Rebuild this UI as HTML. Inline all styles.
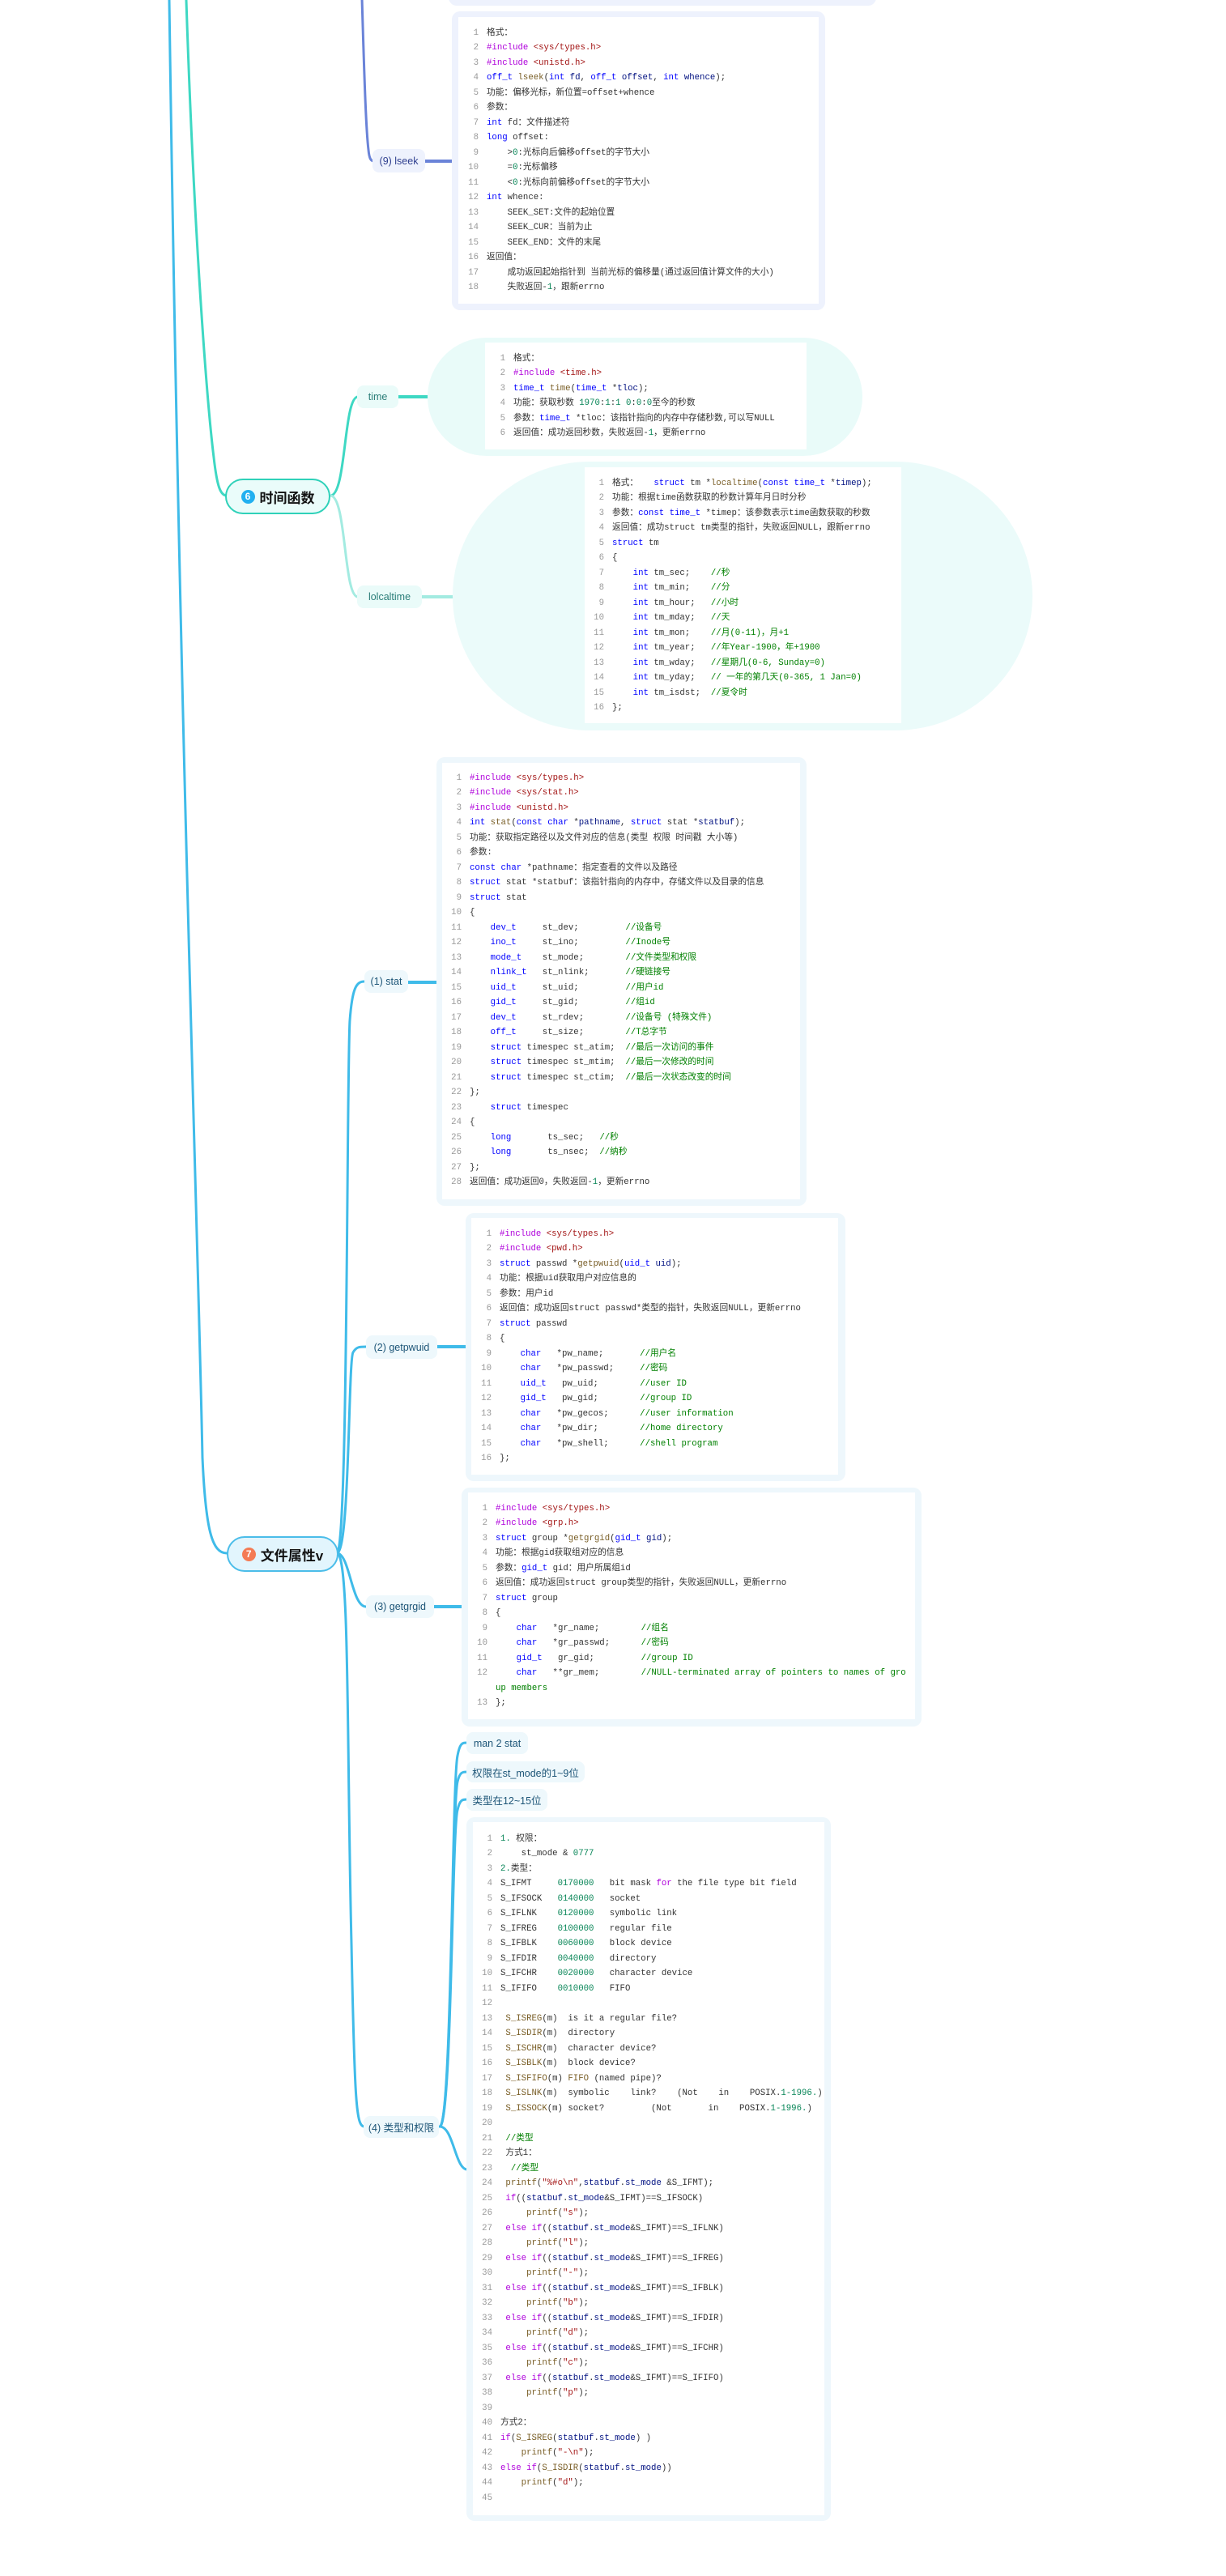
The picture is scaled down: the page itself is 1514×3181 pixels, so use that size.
<!DOCTYPE html>
<html><head><meta charset="utf-8">
<style>
html,body{margin:0;padding:0;background:#fff;}
body{width:1514px;height:3181px;position:relative;overflow:hidden;font-family:"Liberation Sans","Noto Sans CJK SC",sans-serif;}
.box{position:absolute;border-radius:10px;}
.inner{position:absolute;background:#fff;}
.node{position:absolute;display:flex;align-items:center;justify-content:center;border-radius:8px;font-size:12.5px;white-space:nowrap;box-sizing:border-box;}
.nb{background:#eef8fc;color:#1d5577;}
.nt{background:#eafbf9;color:#2a7d78;}
.ni{background:#eef2fd;color:#2f3f8f;}
.main{position:absolute;display:flex;align-items:center;justify-content:center;border-radius:24px;box-sizing:border-box;font-weight:bold;font-size:17px;color:#111;}
.circ{display:inline-flex;width:17px;height:17px;border-radius:50%;color:#fff;font-size:12px;align-items:center;justify-content:center;margin-right:6px;}
.code{position:absolute;font-family:"Liberation Mono","Noto Sans CJK SC",monospace;font-size:10.7px;line-height:18.5px;color:#333;white-space:normal;}
.code div{height:18.5px;white-space:pre;overflow:visible;}
.code i{display:inline-block;width:20px;margin-right:10px;text-align:right;color:#999;font-style:normal;}
.k{color:#0000ff}.p{color:#af00db}.s{color:#a31515}.c{color:#008000}.n{color:#098658}.f{color:#795e26}.v{color:#001080}
svg{position:absolute;left:0;top:0;}
</style></head><body>

<svg width="1514" height="3181" viewBox="0 0 1514 3181">
<g fill="none" stroke-width="3" stroke-linecap="round">
<path d="M209,0 C222,900 244,1500 250,1800 C254,1890 262,1918 280,1918" stroke="#3fbbe9"/>
<path d="M230,0 C240,300 256,500 264,565 C268,600 272,612 280,612" stroke="#3ed8c3"/>
<path d="M447,-2 C450,100 452,160 455,185 C456,196 458,199 462,199" stroke="#6a83d8"/>
<path d="M525,199 L558,199" stroke="#6a83d8" stroke-width="4"/>
<path d="M408,612 C428,612 424,490 442,490" stroke="#3ed8c3"/>
<path d="M408,612 C428,612 424,737 442,737" stroke="#a3ebe1"/>
<path d="M492,490 L528,490" stroke="#3ed8c3" stroke-width="4"/>
<path d="M521,737 L559,737" stroke="#a3ebe1" stroke-width="4"/>
<path d="M416,1918 C430,1918 428,1320 432,1260 C435,1220 440,1212 450,1212" stroke="#3fbbe9"/>
<path d="M416,1918 C432,1918 430,1680 436,1670 C440,1663 444,1663 452,1663" stroke="#3fbbe9"/>
<path d="M416,1918 C432,1918 434,1984 452,1984" stroke="#3fbbe9"/>
<path d="M416,1918 C432,1918 428,2150 434,2400 C438,2600 440,2626 450,2626" stroke="#3fbbe9"/>
<path d="M504,1213 L539,1213" stroke="#3fbbe9" stroke-width="4"/>
<path d="M540,1663 L575,1663" stroke="#3fbbe9" stroke-width="4"/>
<path d="M536,1984 L570,1984" stroke="#3fbbe9" stroke-width="4"/>
<path d="M543,2626 C558,2626 558,2200 565,2168 C568,2152 571,2152 577,2152" stroke="#3fbbe9"/>
<path d="M543,2626 C558,2626 558,2230 565,2200 C568,2188 571,2188 577,2188" stroke="#3fbbe9"/>
<path d="M543,2626 C558,2626 558,2260 565,2235 C568,2222 571,2222 577,2222" stroke="#3fbbe9"/>
<path d="M543,2626 C560,2626 562,2679 577,2679" stroke="#3fbbe9"/>
</g>
</svg>

<div class="box" style="left:554px;top:-20px;width:528px;height:27px;background:#eef2fd;"></div>

<div class="box" style="left:558px;top:14px;width:461px;height:369px;background:#eef2fd;"></div>
<div class="inner" style="left:566px;top:21px;width:445px;height:354px;"></div>
<div class="node ni" style="left:460px;top:184px;width:65px;height:29px;">(9) lseek</div>
<div class="code" style="left:571px;top:31.75px;">
<div><i>1</i>格式：</div>
<div><i>2</i><span class="p">#include</span> <span class="s">&lt;sys/types.h&gt;</span></div>
<div><i>3</i><span class="p">#include</span> <span class="s">&lt;unistd.h&gt;</span></div>
<div><i>4</i><span class="k">off_t</span> <span class="f">lseek</span>(<span class="k">int</span> <span class="v">fd</span>, <span class="k">off_t</span> <span class="v">offset</span>, <span class="k">int</span> <span class="v">whence</span>);</div>
<div><i>5</i>功能：偏移光标，新位置=offset+whence</div>
<div><i>6</i>参数：</div>
<div><i>7</i><span class="k">int</span> fd：文件描述符</div>
<div><i>8</i><span class="k">long</span> offset:</div>
<div><i>9</i>    &gt;<span class="n">0</span>:光标向后偏移offset的字节大小</div>
<div><i>10</i>    =<span class="n">0</span>:光标偏移</div>
<div><i>11</i>    &lt;<span class="n">0</span>:光标向前偏移offset的字节大小</div>
<div><i>12</i><span class="k">int</span> whence:</div>
<div><i>13</i>    SEEK_SET:文件的起始位置</div>
<div><i>14</i>    SEEK_CUR：当前为止</div>
<div><i>15</i>    SEEK_END：文件的末尾</div>
<div><i>16</i>返回值：</div>
<div><i>17</i>    成功返回起始指针到 当前光标的偏移量(通过返回值计算文件的大小)</div>
<div><i>18</i>    失败返回-<span class="n">1</span>，跟新errno</div>
</div>

<div class="main" style="left:278px;top:591px;width:130px;height:44px;background:#eafcfa;border:2.5px solid #2fd1b9;"><span class="circ" style="background:#22b0f0;">6</span>时间函数</div>

<div class="box" style="left:528px;top:417px;width:537px;height:146px;background:#e9fbf9;border-radius:73px;"></div>
<div class="inner" style="left:599px;top:423px;width:397px;height:132px;"></div>
<div class="node nt" style="left:441px;top:476px;width:51px;height:28px;">time</div>
<div class="code" style="left:604px;top:433.75px;">
<div><i>1</i>格式：</div>
<div><i>2</i><span class="p">#include</span> <span class="s">&lt;time.h&gt;</span></div>
<div><i>3</i><span class="k">time_t</span> <span class="f">time</span>(<span class="k">time_t</span> *<span class="v">tloc</span>);</div>
<div><i>4</i>功能：获取秒数 <span class="n">1970</span>:<span class="n">1</span>:<span class="n">1</span> <span class="n">0</span>:<span class="n">0</span>:<span class="n">0</span>至今的秒数</div>
<div><i>5</i>参数：<span class="k">time_t</span> *tloc：该指针指向的内存中存储秒数,可以写NULL</div>
<div><i>6</i>返回值：成功返回秒数，失败返回-<span class="n">1</span>，更新errno</div>
</div>

<div class="box" style="left:559px;top:570px;width:716px;height:332px;background:#ebfbfa;border-radius:170px / 166px;"></div>
<div class="inner" style="left:722px;top:577px;width:391px;height:316px;"></div>
<div class="node nt" style="left:441px;top:723px;width:80px;height:28px;">lolcaltime</div>
<div class="code" style="left:726px;top:587.75px;">
<div><i>1</i>格式：   <span class="k">struct</span> tm *<span class="f">localtime</span>(<span class="k">const</span> <span class="k">time_t</span> *<span class="v">timep</span>);</div>
<div><i>2</i>功能：根据time函数获取的秒数计算年月日时分秒</div>
<div><i>3</i>参数：<span class="k">const</span> <span class="k">time_t</span> *timep：该参数表示time函数获取的秒数</div>
<div><i>4</i>返回值：成功struct tm类型的指针，失败返回NULL，跟新errno</div>
<div><i>5</i><span class="k">struct</span> tm</div>
<div><i>6</i>{</div>
<div><i>7</i>    <span class="k">int</span> tm_sec;    <span class="c">//秒</span></div>
<div><i>8</i>    <span class="k">int</span> tm_min;    <span class="c">//分</span></div>
<div><i>9</i>    <span class="k">int</span> tm_hour;   <span class="c">//小时</span></div>
<div><i>10</i>    <span class="k">int</span> tm_mday;   <span class="c">//天</span></div>
<div><i>11</i>    <span class="k">int</span> tm_mon;    <span class="c">//月(0-11)，月+1</span></div>
<div><i>12</i>    <span class="k">int</span> tm_year;   <span class="c">//年Year-1900，年+1900</span></div>
<div><i>13</i>    <span class="k">int</span> tm_wday;   <span class="c">//星期几(0-6, Sunday=0)</span></div>
<div><i>14</i>    <span class="k">int</span> tm_yday;   <span class="c">// 一年的第几天(0-365, 1 Jan=0)</span></div>
<div><i>15</i>    <span class="k">int</span> tm_isdst;  <span class="c">//夏令时</span></div>
<div><i>16</i>};</div>
</div>

<div class="box" style="left:539px;top:935px;width:457px;height:554px;background:#eef7fc;"></div>
<div class="inner" style="left:546px;top:942px;width:442px;height:539px;"></div>
<div class="node nb" style="left:450px;top:1198px;width:54px;height:28px;">(1) stat</div>
<div class="code" style="left:550px;top:951.75px;">
<div><i>1</i><span class="p">#include</span> <span class="s">&lt;sys/types.h&gt;</span></div>
<div><i>2</i><span class="p">#include</span> <span class="s">&lt;sys/stat.h&gt;</span></div>
<div><i>3</i><span class="p">#include</span> <span class="s">&lt;unistd.h&gt;</span></div>
<div><i>4</i><span class="k">int</span> <span class="f">stat</span>(<span class="k">const</span> <span class="k">char</span> *<span class="v">pathname</span>, <span class="k">struct</span> stat *<span class="v">statbuf</span>);</div>
<div><i>5</i>功能：获取指定路径以及文件对应的信息(类型 权限 时间戳 大小等)</div>
<div><i>6</i>参数:</div>
<div><i>7</i><span class="k">const</span> <span class="k">char</span> *pathname：指定查看的文件以及路径</div>
<div><i>8</i><span class="k">struct</span> stat *statbuf：该指针指向的内存中，存储文件以及目录的信息</div>
<div><i>9</i><span class="k">struct</span> stat</div>
<div><i>10</i>{</div>
<div><i>11</i>    <span class="k">dev_t</span>     st_dev;         <span class="c">//设备号</span></div>
<div><i>12</i>    <span class="k">ino_t</span>     st_ino;         <span class="c">//Inode号</span></div>
<div><i>13</i>    <span class="k">mode_t</span>    st_mode;        <span class="c">//文件类型和权限</span></div>
<div><i>14</i>    <span class="k">nlink_t</span>   st_nlink;       <span class="c">//硬链接号</span></div>
<div><i>15</i>    <span class="k">uid_t</span>     st_uid;         <span class="c">//用户id</span></div>
<div><i>16</i>    <span class="k">gid_t</span>     st_gid;         <span class="c">//组id</span></div>
<div><i>17</i>    <span class="k">dev_t</span>     st_rdev;        <span class="c">//设备号 (特殊文件)</span></div>
<div><i>18</i>    <span class="k">off_t</span>     st_size;        <span class="c">//T总字节</span></div>
<div><i>19</i>    <span class="k">struct</span> timespec st_atim;  <span class="c">//最后一次访问的事件</span></div>
<div><i>20</i>    <span class="k">struct</span> timespec st_mtim;  <span class="c">//最后一次修改的时间</span></div>
<div><i>21</i>    <span class="k">struct</span> timespec st_ctim;  <span class="c">//最后一次状态改变的时间</span></div>
<div><i>22</i>};</div>
<div><i>23</i>    <span class="k">struct</span> timespec</div>
<div><i>24</i>{</div>
<div><i>25</i>    <span class="k">long</span>       ts_sec;   <span class="c">//秒</span></div>
<div><i>26</i>    <span class="k">long</span>       ts_nsec;  <span class="c">//纳秒</span></div>
<div><i>27</i>};</div>
<div><i>28</i>返回值：成功返回0，失败返回-<span class="n">1</span>，更新errno</div>
</div>

<div class="box" style="left:575px;top:1498px;width:469px;height:331px;background:#eef7fc;"></div>
<div class="inner" style="left:582px;top:1504px;width:453px;height:317px;"></div>
<div class="node nb" style="left:452px;top:1649px;width:88px;height:29px;">(2) getpwuid</div>
<div class="code" style="left:587px;top:1514.75px;">
<div><i>1</i><span class="p">#include</span> <span class="s">&lt;sys/types.h&gt;</span></div>
<div><i>2</i><span class="p">#include</span> <span class="s">&lt;pwd.h&gt;</span></div>
<div><i>3</i><span class="k">struct</span> passwd *<span class="f">getpwuid</span>(<span class="k">uid_t</span> <span class="v">uid</span>);</div>
<div><i>4</i>功能：根据uid获取用户对应信息的</div>
<div><i>5</i>参数：用户id</div>
<div><i>6</i>返回值：成功返回struct passwd*类型的指针，失败返回NULL，更新errno</div>
<div><i>7</i><span class="k">struct</span> passwd</div>
<div><i>8</i>{</div>
<div><i>9</i>    <span class="k">char</span>   *pw_name;       <span class="c">//用户名</span></div>
<div><i>10</i>    <span class="k">char</span>   *pw_passwd;     <span class="c">//密码</span></div>
<div><i>11</i>    <span class="k">uid_t</span>   pw_uid;        <span class="c">//user ID</span></div>
<div><i>12</i>    <span class="k">gid_t</span>   pw_gid;        <span class="c">//group ID</span></div>
<div><i>13</i>    <span class="k">char</span>   *pw_gecos;      <span class="c">//user information</span></div>
<div><i>14</i>    <span class="k">char</span>   *pw_dir;        <span class="c">//home directory</span></div>
<div><i>15</i>    <span class="k">char</span>   *pw_shell;      <span class="c">//shell program</span></div>
<div><i>16</i>};</div>
</div>

<div class="main" style="left:280px;top:1897px;width:138px;height:44px;background:#e2f5fd;border:2px solid #4bbde9;"><span class="circ" style="background:#f47b54;">7</span>文件属性v</div>

<div class="box" style="left:570px;top:1837px;width:568px;height:295px;background:#eef7fc;"></div>
<div class="inner" style="left:578px;top:1843px;width:552px;height:280px;"></div>
<div class="node nb" style="left:452px;top:1970px;width:84px;height:28px;">(3) getgrgid</div>
<div class="code" style="left:582px;top:1853.75px;">
<div><i>1</i><span class="p">#include</span> <span class="s">&lt;sys/types.h&gt;</span></div>
<div><i>2</i><span class="p">#include</span> <span class="s">&lt;grp.h&gt;</span></div>
<div><i>3</i><span class="k">struct</span> group *<span class="f">getgrgid</span>(<span class="k">gid_t</span> <span class="v">gid</span>);</div>
<div><i>4</i>功能：根据gid获取组对应的信息</div>
<div><i>5</i>参数：<span class="k">gid_t</span> gid：用户所属组id</div>
<div><i>6</i>返回值：成功返回struct group类型的指针，失败返回NULL，更新errno</div>
<div><i>7</i><span class="k">struct</span> group</div>
<div><i>8</i>{</div>
<div><i>9</i>    <span class="k">char</span>   *gr_name;        <span class="c">//组名</span></div>
<div><i>10</i>    <span class="k">char</span>   *gr_passwd;      <span class="c">//密码</span></div>
<div><i>11</i>    <span class="k">gid_t</span>   gr_gid;         <span class="c">//group ID</span></div>
<div><i>12</i>    <span class="k">char</span>   **gr_mem;        <span class="c">//NULL-terminated array of pointers to names of gro</span></div>
<div><i></i><span class="c">up members</span></div>
<div><i>13</i>};</div>
</div>

<div class="node nb" style="left:576px;top:2139px;width:76px;height:27px;">man 2 stat</div>
<div class="node nb" style="left:576px;top:2175px;width:146px;height:26px;">权限在st_mode的1~9位</div>
<div class="node nb" style="left:576px;top:2209px;width:100px;height:27px;">类型在12~15位</div>
<div class="node nb" style="left:449px;top:2613px;width:93px;height:27px;">(4) 类型和权限</div>

<div class="box" style="left:576px;top:2244px;width:450px;height:869px;background:#eef7fc;"></div>
<div class="inner" style="left:584px;top:2250px;width:434px;height:856px;"></div>
<div class="code" style="left:588px;top:2261.75px;line-height:18.52px;">
<div><i>1</i><span class="n">1.</span> 权限：</div>
<div><i>2</i>    st_mode &amp; <span class="n">0777</span></div>
<div><i>3</i><span class="n">2.</span>类型：</div>
<div><i>4</i>S_IFMT     <span class="n">0170000</span>   bit mask <span class="p">for</span> the file type bit field</div>
<div><i>5</i>S_IFSOCK   <span class="n">0140000</span>   socket</div>
<div><i>6</i>S_IFLNK    <span class="n">0120000</span>   symbolic link</div>
<div><i>7</i>S_IFREG    <span class="n">0100000</span>   regular file</div>
<div><i>8</i>S_IFBLK    <span class="n">0060000</span>   block device</div>
<div><i>9</i>S_IFDIR    <span class="n">0040000</span>   directory</div>
<div><i>10</i>S_IFCHR    <span class="n">0020000</span>   character device</div>
<div><i>11</i>S_IFIFO    <span class="n">0010000</span>   FIFO</div>
<div><i>12</i></div>
<div><i>13</i> <span class="f">S_ISREG</span>(m)  is it a regular file?</div>
<div><i>14</i> <span class="f">S_ISDIR</span>(m)  directory</div>
<div><i>15</i> <span class="f">S_ISCHR</span>(m)  character device?</div>
<div><i>16</i> <span class="f">S_ISBLK</span>(m)  block device?</div>
<div><i>17</i> <span class="f">S_ISFIFO</span>(m) <span class="f">FIFO</span> (named pipe)?</div>
<div><i>18</i> <span class="f">S_ISLNK</span>(m)  symbolic    link?    (Not    in    POSIX.<span class="n">1-1996.</span>)</div>
<div><i>19</i> <span class="f">S_ISSOCK</span>(m) socket?         (Not       in    POSIX.<span class="n">1-1996.</span>)</div>
<div><i>20</i></div>
<div><i>21</i> <span class="c">//类型</span></div>
<div><i>22</i> 方式1：</div>
<div><i>23</i>  <span class="c">//类型</span></div>
<div><i>24</i> <span class="f">printf</span>(<span class="s">"%#o\n"</span>,<span class="v">statbuf</span>.<span class="v">st_mode</span> &amp;S_IFMT);</div>
<div><i>25</i> <span class="p">if</span>((<span class="v">statbuf</span>.<span class="v">st_mode</span>&amp;S_IFMT)==S_IFSOCK)</div>
<div><i>26</i>     <span class="f">printf</span>(<span class="s">"s"</span>);</div>
<div><i>27</i> <span class="p">else</span> <span class="p">if</span>((<span class="v">statbuf</span>.<span class="v">st_mode</span>&amp;S_IFMT)==S_IFLNK)</div>
<div><i>28</i>     <span class="f">printf</span>(<span class="s">"l"</span>);</div>
<div><i>29</i> <span class="p">else</span> <span class="p">if</span>((<span class="v">statbuf</span>.<span class="v">st_mode</span>&amp;S_IFMT)==S_IFREG)</div>
<div><i>30</i>     <span class="f">printf</span>(<span class="s">"-"</span>);</div>
<div><i>31</i> <span class="p">else</span> <span class="p">if</span>((<span class="v">statbuf</span>.<span class="v">st_mode</span>&amp;S_IFMT)==S_IFBLK)</div>
<div><i>32</i>     <span class="f">printf</span>(<span class="s">"b"</span>);</div>
<div><i>33</i> <span class="p">else</span> <span class="p">if</span>((<span class="v">statbuf</span>.<span class="v">st_mode</span>&amp;S_IFMT)==S_IFDIR)</div>
<div><i>34</i>     <span class="f">printf</span>(<span class="s">"d"</span>);</div>
<div><i>35</i> <span class="p">else</span> <span class="p">if</span>((<span class="v">statbuf</span>.<span class="v">st_mode</span>&amp;S_IFMT)==S_IFCHR)</div>
<div><i>36</i>     <span class="f">printf</span>(<span class="s">"c"</span>);</div>
<div><i>37</i> <span class="p">else</span> <span class="p">if</span>((<span class="v">statbuf</span>.<span class="v">st_mode</span>&amp;S_IFMT)==S_IFIFO)</div>
<div><i>38</i>     <span class="f">printf</span>(<span class="s">"p"</span>);</div>
<div><i>39</i></div>
<div><i>40</i>方式2：</div>
<div><i>41</i><span class="p">if</span>(<span class="f">S_ISREG</span>(<span class="v">statbuf</span>.<span class="v">st_mode</span>) )</div>
<div><i>42</i>    <span class="f">printf</span>(<span class="s">"-\n"</span>);</div>
<div><i>43</i><span class="p">else</span> <span class="p">if</span>(<span class="f">S_ISDIR</span>(<span class="v">statbuf</span>.<span class="v">st_mode</span>))</div>
<div><i>44</i>    <span class="f">printf</span>(<span class="s">"d"</span>);</div>
<div><i>45</i></div>
</div>

</body></html>
